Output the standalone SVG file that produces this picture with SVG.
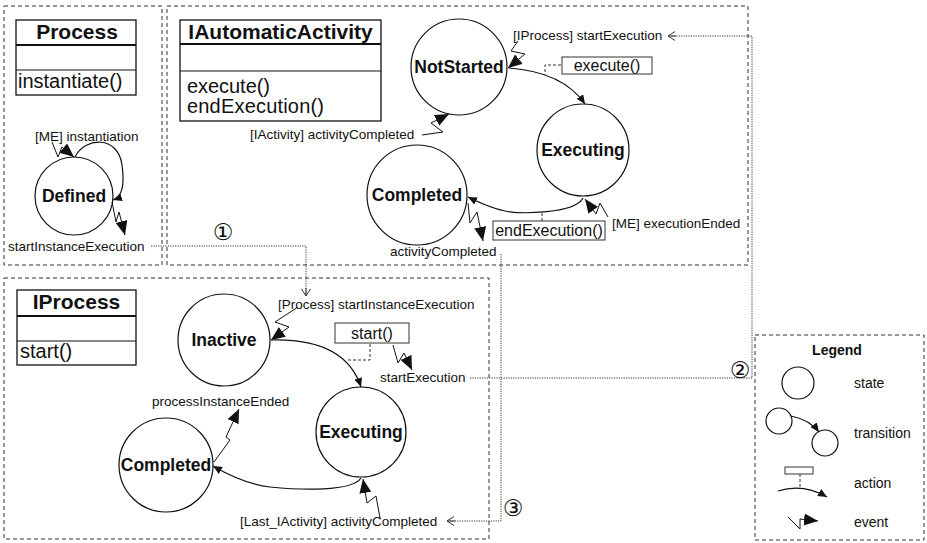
<svg xmlns="http://www.w3.org/2000/svg" width="927" height="543" viewBox="0 0 927 543">
<style>
text{font-family:"Liberation Sans",Arial,sans-serif;fill:#111}
.frame{fill:none;stroke:#333;stroke-width:1;stroke-dasharray:4,3}
.box{fill:#fff;stroke:#111;stroke-width:1.3}
.hdr{stroke:#111;stroke-width:2}
.div{stroke:#111;stroke-width:1.2}
.title{font-weight:bold;font-size:21px;text-anchor:middle}
.op{font-size:20px}
.state{fill:#fff;stroke:#111;stroke-width:1.2}
.sname{font-weight:bold;font-size:17.5px;text-anchor:middle}
.lbl{font-size:13.5px}
.act{fill:#fff;stroke:#333;stroke-width:1}
.acttxt{font-size:16px;text-anchor:middle}
.tr{fill:none;stroke:#111;stroke-width:1.2;marker-end:url(#trA)}
.ev{fill:none;stroke:#111;stroke-width:1;marker-end:url(#evA)}
.dash{fill:none;stroke:#333;stroke-width:1;stroke-dasharray:3,2}
.dot{fill:none;stroke:#333;stroke-width:1;stroke-dasharray:1.2,1.2}
.open{fill:none;stroke:#333;stroke-width:1;marker-end:url(#opA)}
.num{font-family:"DejaVu Sans",sans-serif;font-size:23px;text-anchor:middle}
.leg{font-size:14px}
</style>
<defs>
<marker id="evA" markerUnits="userSpaceOnUse" markerWidth="15" markerHeight="13" refX="14" refY="6" orient="auto"><path d="M0,0 L14,6 L0,12 z" fill="#111"/></marker>
<marker id="trA" markerUnits="userSpaceOnUse" markerWidth="10" markerHeight="8" refX="9" refY="4" orient="auto"><path d="M0,0 L9,4 L0,8 z" fill="#111"/></marker>
<marker id="opA" markerUnits="userSpaceOnUse" markerWidth="9" markerHeight="10" refX="7" refY="4.5" orient="auto"><path d="M0,0 L7,4.5 L0,9" fill="none" stroke="#333" stroke-width="1"/></marker>
</defs>

<!-- frames -->
<g id="frames">
<rect class="frame" x="4" y="6" width="158" height="259"/>
<rect class="frame" x="167" y="6" width="581" height="259"/>
<rect class="frame" x="4" y="278" width="485" height="261"/>
<rect class="frame" x="755" y="335" width="169" height="205"/>
</g>

<!-- class boxes -->
<g id="class-process">
<rect class="box" x="16" y="20" width="120" height="75"/>
<line class="hdr" x1="16" y1="45" x2="136" y2="45"/>
<line class="div" x1="16" y1="70" x2="136" y2="70"/>
<text class="title" x="77" y="39">Process</text>
<text class="op" x="18" y="88" font-size="21">instantiate()</text>
</g>
<g id="class-iautomaticactivity">
<rect class="box" x="180" y="20" width="201" height="101"/>
<line class="hdr" x1="180" y1="44" x2="381" y2="44"/>
<line class="div" x1="180" y1="71" x2="381" y2="71"/>
<text class="title" x="280.5" y="39" font-size="22">IAutomaticActivity</text>
<text class="op" x="187" y="93" font-size="18.5" textLength="83">execute()</text>
<text class="op" x="187" y="113" font-size="18.5" textLength="137">endExecution()</text>
</g>
<g id="class-iprocess">
<rect class="box" x="17" y="290" width="119" height="75"/>
<line class="hdr" x1="17" y1="316" x2="136" y2="316"/>
<line class="div" x1="17" y1="341" x2="136" y2="341"/>
<text class="title" x="76.5" y="309">IProcess</text>
<text class="op" x="20" y="358">start()</text>
</g>

<!-- states -->
<g id="state-defined">
<circle class="state" cx="74" cy="196" r="39"/>
<text class="sname" x="74" y="202">Defined</text>
</g>
<g id="state-notstarted">
<circle class="state" cx="459" cy="67" r="48"/>
<text class="sname" x="459" y="73" font-size="18.5">NotStarted</text>
</g>
<g id="state-aa-executing">
<circle class="state" cx="583" cy="150" r="46"/>
<text class="sname" x="583" y="156">Executing</text>
</g>
<g id="state-aa-completed">
<circle class="state" cx="417" cy="195" r="50"/>
<text class="sname" x="417" y="201">Completed</text>
</g>
<g id="state-inactive">
<circle class="state" cx="224" cy="340" r="46"/>
<text class="sname" x="224" y="346">Inactive</text>
</g>
<g id="state-p-executing">
<circle class="state" cx="361" cy="432" r="45"/>
<text class="sname" x="361" y="438">Executing</text>
</g>
<g id="state-p-completed">
<circle class="state" cx="166" cy="465" r="47"/>
<text class="sname" x="166" y="471">Completed</text>
</g>

<!-- actions -->
<g id="action-execute">
<rect class="act" x="562" y="57" width="90" height="17"/>
<text class="acttxt" x="607" y="71">execute()</text>
</g>
<g id="action-endexecution">
<rect class="act" x="493" y="221" width="112" height="19"/>
<text class="acttxt" x="549" y="236">endExecution()</text>
</g>
<g id="action-start">
<rect class="act" x="335" y="323" width="74" height="20"/>
<text class="acttxt" x="372" y="339">start()</text>
</g>

<!-- labels -->
<g id="labels">
<text class="lbl" x="35" y="141">[ME] instantiation</text>
<text class="lbl" x="8" y="251">startInstanceExecution</text>
<text class="lbl" x="513" y="40">[IProcess] startExecution</text>
<text class="lbl" x="250" y="139">[IActivity] activityCompleted</text>
<text class="lbl" x="612" y="228">[ME] executionEnded</text>
<text class="lbl" x="390" y="256">activityCompleted</text>
<text class="lbl" x="278" y="309">[Process] startInstanceExecution</text>
<text class="lbl" x="380" y="382">startExecution</text>
<text class="lbl" x="152" y="406">processInstanceEnded</text>
<text class="lbl" x="240" y="526">[Last_IActivity] activityCompleted</text>
</g>

<!-- connectors -->
<g id="connectors">
<!-- transitions -->
<path class="tr" d="M75 157 C85 137 118 135 122 165 C125 186 122 197 113 200"/>
<path class="tr" d="M509 68 Q563 72 585 104"/>
<path class="tr" d="M583 198 C575 214 520 214 505 211 C490 208 478 202 468 197"/>
<path class="tr" d="M271 340 Q345 338 361 387"/>
<path class="tr" d="M361 478 C352 492 300 490 270 487 C245 484 225 473 213 466"/>
<!-- action links -->
<path class="dash" d="M561 65 H545 V75"/>
<path class="dash" d="M542 221 V212"/>
<path class="dash" d="M370 344 V360 H347"/>
<!-- events -->
<polyline class="ev" points="52,142 58,157 62,147 74,157"/>
<polyline class="ev" points="112,202 116,222 119,212 125,235"/>
<polyline class="ev" points="518,41 511,51 525,54 508,68"/>
<polyline class="ev" points="422,135 443,132 431,123 449,114"/>
<polyline class="ev" points="608,217 600,203 596,214 585,199"/>
<polyline class="ev" points="468,203 470,223 477,212 483,241"/>
<polyline class="ev" points="298,307 275,322 289,327 271,340"/>
<polyline class="ev" points="393,345 398,363 404,353 412,370"/>
<polyline class="ev" points="380,518 376,496 367,503 363,479"/>
<polyline class="ev" points="214,462 230,440 226,437 239,409"/>
<!-- cross-machine dotted links -->
<path class="dot" d="M151 246 H306 V294"/>
<path class="open" d="M306 288 V296"/>
<path class="dot" d="M470 378 H752 V36 H671"/>
<path class="open" d="M676 36 H668"/>
<path class="dot" d="M501 254 V521 H450"/>
<path class="open" d="M455 521 H447"/>
</g>

<g id="markers-num">
<text class="num" x="223" y="240">①</text>
<text class="num" x="740" y="378">②</text>
<text class="num" x="513" y="516">③</text>
</g>

<!-- legend -->
<g id="legend">
<text x="837" y="355" font-size="14" font-weight="bold" text-anchor="middle">Legend</text>
<circle class="state" cx="798" cy="383" r="16"/>
<text class="leg" x="854" y="388">state</text>
<circle class="state" cx="779" cy="421" r="13"/>
<circle class="state" cx="825" cy="443" r="13"/>
<path class="tr" d="M791 416 Q810 420 819 432"/>
<text class="leg" x="854" y="438">transition</text>
<rect class="act" x="785" y="467" width="28" height="7"/>
<path class="dash" d="M800 474 V489"/>
<path class="tr" d="M778 491 Q803 483 827 497"/>
<text class="leg" x="854" y="488">action</text>
<polyline class="ev" points="788,517 800,529 800,519 818,521"/>
<text class="leg" x="854" y="527">event</text>
</g>
</svg>
